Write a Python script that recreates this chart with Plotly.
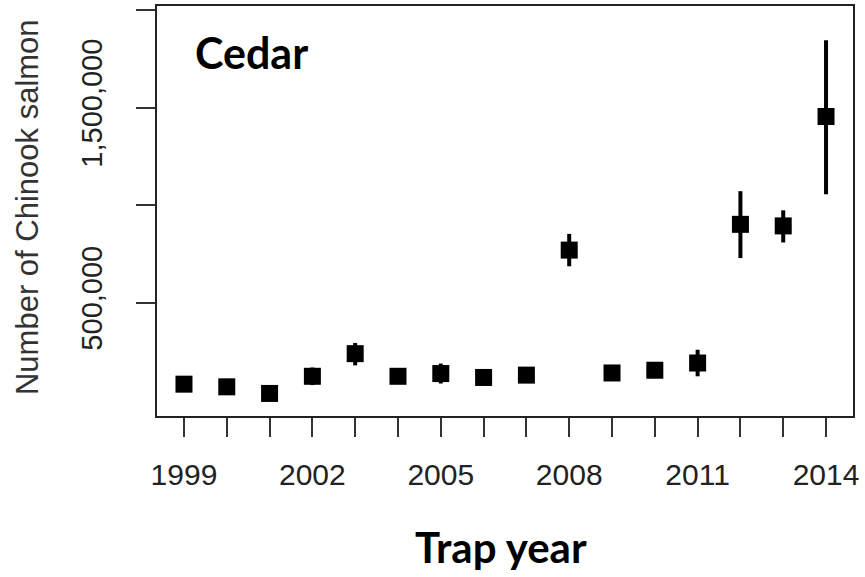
import plotly.graph_objects as go

years = list(range(1999, 2015))
estimates = [81600, 68000, 34000, 122000, 238000, 122000, 136000, 116000,
             128000, 769000, 139000, 153000, 190000, 901000, 893000, 1454000]
err_upper = [0, 0, 0, 45000, 55000, 0, 51000, 0,
             0, 83000, 0, 0, 68000, 170000, 80000, 391000]
err_lower = [0, 0, 0, 45000, 60000, 0, 51000, 0,
             0, 83000, 0, 0, 68000, 173000, 85000, 399000]

y_tickvals = [500000, 1000000, 1500000, 2000000]
y_ticktext = ["500,000", "", "1,500,000", ""]
x_ticktext = [str(y) if (y - 1999) % 3 == 0 else "" for y in years]

fig = go.Figure()
fig.add_trace(go.Scatter(
    x=years, y=estimates, mode="markers",
    marker=dict(symbol="square", size=17, color="black", line=dict(width=0)),
    error_y=dict(type="data", symmetric=False, array=err_upper, arrayminus=err_lower,
                 color="black", thickness=4, width=0),
    showlegend=False,
))

xtick_font = dict(family="Liberation Sans, Arial, sans-serif", size=30, color="#222")
ytick_font = dict(family="Liberation Sans, Arial, sans-serif", size=29, color="#222")

L, R, T, B = 157, 12, 4, 161
W, H = 865, 577
pw, ph = W - L - R, H - T - B


def px_x(x):
    return (x - L) / pw


def px_y(y):
    return 1 - (y - T) / ph


fig.update_layout(
    width=W, height=H,
    margin=dict(l=L, r=R, t=T, b=B),
    plot_bgcolor="white", paper_bgcolor="white",
    xaxis=dict(range=[1998.37, 2014.63], tickvals=years, ticktext=x_ticktext,
               showgrid=False, zeroline=False, showline=True, mirror=True,
               linecolor="#222", linewidth=2, ticks="outside", ticklen=19,
               tickwidth=2, tickcolor="#333", tickfont=xtick_font,
               ticklabelstandoff=12),
    yaxis=dict(range=[-81600, 2020400], tickvals=y_tickvals, ticktext=y_ticktext,
               showgrid=False, zeroline=False, showline=True, mirror=True,
               linecolor="#222", linewidth=2, ticks="outside", ticklen=19,
               tickwidth=2, tickcolor="#333", tickfont=ytick_font, tickangle=-90,
               ticklabelstandoff=22),
    annotations=[
        dict(text="Cedar", x=px_x(193), y=px_y(51), xref="paper", yref="paper",
             showarrow=False,
             font=dict(family="Lato, sans-serif", size=43, color="black", weight="bold"),
             xanchor="left", yanchor="middle"),
        dict(text="Trap year", x=px_x(501), y=px_y(548), xref="paper", yref="paper",
             showarrow=False,
             font=dict(family="Lato, sans-serif", size=42, color="black", weight="bold"),
             xanchor="center", yanchor="middle"),
        dict(text="Number of Chinook salmon", x=px_x(27), y=px_y(206), xref="paper",
             yref="paper", showarrow=False, textangle=-90,
             font=dict(family="Liberation Sans, Arial, sans-serif", size=31, color="#333"),
             xanchor="center", yanchor="middle"),
    ],
)

fig.write_html("out.html")
